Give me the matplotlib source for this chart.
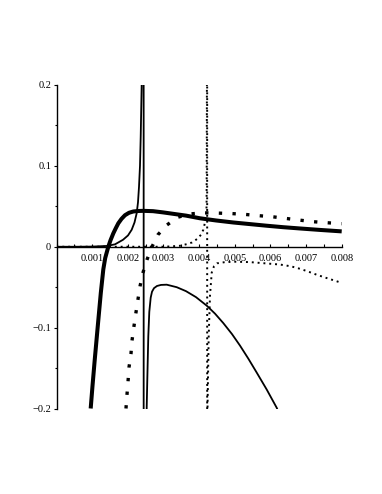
import matplotlib
matplotlib.use("Agg")
import matplotlib.pyplot as plt
from matplotlib.ticker import MultipleLocator, FixedLocator, FixedFormatter

# ---- data ----
# thick solid curve
thick_x = [0.000959, 0.001010, 0.001072, 0.001158, 0.001243, 0.001313, 0.001366,
           0.001453, 0.001515, 0.001593, 0.001664, 0.001734, 0.001824, 0.001921,
           0.002034, 0.002154, 0.002286, 0.002435, 0.002707, 0.002987, 0.003276,
           0.003632, 0.004025, 0.004474, 0.004959, 0.005428, 0.005896, 0.006353,
           0.006830, 0.007391, 0.008000]
thick_y = [-0.200, -0.172, -0.140, -0.098, -0.057, -0.028, -0.014,
           0.000, 0.008, 0.0165, 0.023, 0.029, 0.0345, 0.0390,
           0.0420, 0.0436, 0.0442, 0.0444, 0.0440, 0.0425, 0.0407,
           0.0385, 0.0352, 0.0325, 0.0300, 0.0280, 0.0260, 0.0242,
           0.0226, 0.0208, 0.0190]

# thin solid curve (pole near x = 0.00244)
thin_x = [0.0, 0.0005, 0.0010, 0.001417, 0.001641, 0.001865, 0.002006, 0.002109,
          0.002188, 0.002250, 0.002286, 0.002314, 0.002342, 0.002362, 0.002390,
          0.002440, 0.002450,
          0.002510, 0.002530, 0.002547, 0.002575, 0.002603, 0.002642, 0.002679,
          0.002735, 0.002819, 0.002931, 0.003091, 0.003372, 0.003632, 0.003913,
          0.004213, 0.004446, 0.004679, 0.004923, 0.005147, 0.005380, 0.005616,
          0.005896, 0.006177, 0.006325]
thin_y = [0.0, 0.0, 0.0002, 0.0010, 0.0030, 0.0086, 0.0140, 0.0210,
          0.0300, 0.0416, 0.0550, 0.0740, 0.1000, 0.1360, 0.2020,
          5.0, -5.0,
          -0.300, -0.199, -0.1642, -0.1107, -0.0805, -0.0630, -0.0556,
          -0.0512, -0.0485, -0.0472, -0.0469, -0.0500, -0.0549, -0.0623,
          -0.0728, -0.0827, -0.0944, -0.1080, -0.1222, -0.1383, -0.1556,
          -0.1765, -0.1991, -0.2150]

# thick dotted curve
tdot_x = [0.001949, 0.001977, 0.002006, 0.002034, 0.002090, 0.002118, 0.002174,
          0.002230, 0.002286, 0.002342, 0.002426, 0.002538, 0.002679, 0.002847,
          0.003100, 0.003408, 0.003773, 0.004166, 0.004530, 0.004923, 0.005288,
          0.005652, 0.006073, 0.006438, 0.006802, 0.007195, 0.007588, 0.008000]
tdot_y = [-0.200, -0.183, -0.167, -0.149, -0.132, -0.116, -0.098,
          -0.081, -0.065, -0.049, -0.032, -0.016, 0.000, 0.015,
          0.027, 0.0366, 0.0407, 0.042, 0.0416, 0.041, 0.040,
          0.0385, 0.037, 0.035, 0.033, 0.031, 0.0297, 0.0285]

# thin dotted curve (pole near x = 0.004226)
sdot_x = [0.0, 0.0010, 0.0020, 0.0030, 0.003184, 0.003464, 0.003661, 0.003801,
          0.003941, 0.004053, 0.004118, 0.004165, 0.004193, 0.004210, 0.004219,
          0.004225, 0.004228,
          0.004236, 0.004269, 0.004306, 0.004354, 0.004419, 0.004503, 0.004727,
          0.005008, 0.005428, 0.005849, 0.006270, 0.006550, 0.006738, 0.007018,
          0.007299, 0.007579, 0.007952, 0.008000]
sdot_y = [0.0, 0.0, 0.0, 0.0, 0.0004, 0.0012, 0.0033, 0.0053,
          0.0095, 0.0148, 0.021, 0.030, 0.0395, 0.050, 0.200,
          5.0, -5.0,
          -0.200, -0.111, -0.060, -0.032, -0.024, -0.0205, -0.019,
          -0.0185, -0.019, -0.0205, -0.022, -0.024, -0.026, -0.030,
          -0.0346, -0.0387, -0.044, -0.0445]

x_ticks = [0.001, 0.002, 0.003, 0.004, 0.005, 0.006, 0.007, 0.008]
x_labels = ["0.001", "0.002", "0.003", "0.004", "0.005", "0.006", "0.007", "0.008"]
y_ticks = [-0.2, -0.1, 0.0, 0.1, 0.2]
y_labels = ["\u22120.2", "\u22120.1", "0", "0.1", "0.2"]

# ---- figure ----
plt.rcParams['font.family'] = ['Liberation Serif', 'DejaVu Serif']
W, H = 382, 494
fig = plt.figure(figsize=(W / 100, H / 100), dpi=100)
left, right, top, bottom = 56.5, 341.7, 85.0, 408.5
ax = fig.add_axes([left / W, 1 - bottom / H, (right - left) / W, (bottom - top) / H])

ax.plot(thick_x, thick_y, color='black', lw=2.9, solid_capstyle='butt',
        solid_joinstyle='round')
ax.plot(thin_x, thin_y, color='black', lw=1.3, solid_joinstyle='round')
ax.plot(tdot_x, tdot_y, color='black', lw=2.4, linestyle=(0, (1, 3.1)),
        dash_capstyle='butt')
ax.plot(sdot_x, sdot_y, color='black', lw=1.4, linestyle=(0, (1, 2.0)),
        dash_capstyle='butt')

ax.set_xlim(0, 0.008)
ax.set_ylim(-0.2, 0.2)
ax.set_axisbelow(True)

for s in ['top', 'right']:
    ax.spines[s].set_visible(False)
ax.spines['left'].set_position(('data', 0))
ax.spines['bottom'].set_position(('data', 0))
ax.spines['left'].set_linewidth(1.0)
ax.spines['bottom'].set_linewidth(1.0)

ax.xaxis.set_major_locator(FixedLocator(x_ticks))
ax.xaxis.set_major_formatter(FixedFormatter(x_labels))
ax.xaxis.set_minor_locator(MultipleLocator(0.0005))
ax.yaxis.set_major_locator(FixedLocator(y_ticks))
ax.yaxis.set_major_formatter(FixedFormatter(y_labels))
ax.yaxis.set_minor_locator(MultipleLocator(0.05))

ax.tick_params(axis='x', which='both', direction='in', length=2.3, width=0.8,
               labelsize=7.5, pad=5)
ax.tick_params(axis='y', which='major', direction='out', length=2.3, width=0.8,
               labelsize=7.5, pad=1.5)
ax.tick_params(axis='y', which='minor', direction='out', length=1.5, width=0.8)

fig.savefig('out.png', dpi=100)
